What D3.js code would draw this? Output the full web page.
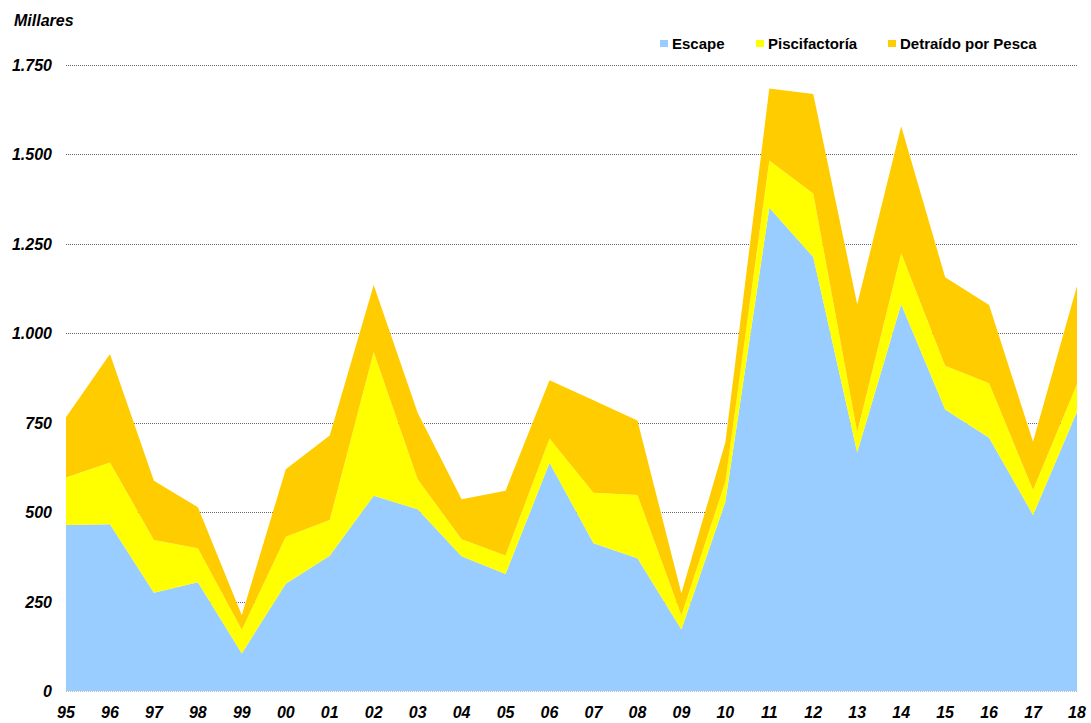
<!DOCTYPE html>
<html>
<head>
<meta charset="utf-8">
<script src="https://cdn.jsdelivr.net/npm/d3@7"></script>
<style>
  body { margin: 0; background: #fff; }
  svg { display: block; font-family: "Liberation Sans", Arial, sans-serif; }
</style>
</head>
<body>
<div id="chart"></div>
<script>
// años (eje X)
var years = ["95","96","97","98","99","00","01","02","03","04","05","06","07","08","09","10","11","12","13","14","15","16","17","18"];
// series en millares
var escape = [464,466,275,304,105,300,378,546,508,377,327,638,413,371,172,529,1351,1213,667,1081,787,708,492,781];
var piscifactoria = [133,173,147,95,66,131,100,402,84,47,52,68,141,177,40,56,132,178,56,143,122,152,70,77];
var detraido = [168,303,166,115,41,189,236,187,186,112,181,163,259,208,61,110,201,278,358,355,248,219,135,274];
var yTicks = [0,250,500,750,1000,1250,1500,1750];
var seriesNames = ["Escape","Piscifactoría","Detraído por Pesca"];
var seriesKeys = ["escape","pisc","detr"];
var colors = ["#99CCFF","#FFFF00","#FFCC00"];

var width = 1091, height = 723;
var plotLeft = 66, plotRight = 1077, plotTop = 65, plotBottom = 691;

var rows = years.map(function(yr, i) {
  return { year: yr, escape: escape[i], pisc: piscifactoria[i], detr: detraido[i] };
});

var svg = d3.select("#chart").append("svg")
  .attr("width", width)
  .attr("height", height);

var x = d3.scalePoint().domain(years).range([plotLeft, plotRight]);
var y = d3.scaleLinear().domain([0, 1750]).range([plotBottom, plotTop]);

function fmt(v) {
  return d3.format(",")(v).replace(/,/g, ".");
}

// líneas de cuadrícula
svg.append("g").selectAll("line")
  .data(yTicks)
  .enter()
  .append("line")
  .attr("x1", plotLeft)
  .attr("x2", plotRight)
  .attr("y1", function(d) { return Math.round(y(d)) + 0.5; })
  .attr("y2", function(d) { return Math.round(y(d)) + 0.5; })
  .style("stroke", function(d) { return d === 0 ? "#bbb" : "#666"; })
  .style("stroke-width", 1)
  .style("stroke-dasharray", "1,1");

// áreas apiladas
var stack = d3.stack().keys(seriesKeys);
var layers = stack(rows);

var area = d3.area()
  .x(function(d) { return x(d.data.year); })
  .y0(function(d) { return y(d[0]); })
  .y1(function(d) { return y(d[1]); });

svg.append("g").selectAll("path")
  .data(layers)
  .enter()
  .append("path")
  .attr("d", area)
  .style("fill", function(d, i) { return colors[i]; });

// eje Y
svg.append("g").selectAll("text")
  .data(yTicks)
  .enter()
  .append("text")
  .attr("x", 52)
  .attr("y", function(d) { return y(d) + 6; })
  .attr("text-anchor", "end")
  .style("font-size", "16px")
  .style("font-weight", "bold")
  .style("font-style", "italic")
  .text(fmt);

// eje X
svg.append("g").selectAll("text")
  .data(years)
  .enter()
  .append("text")
  .attr("x", function(d) { return x(d); })
  .attr("y", 718)
  .attr("text-anchor", "middle")
  .style("font-size", "16px")
  .style("font-weight", "bold")
  .style("font-style", "italic")
  .text(function(d) { return d; });

// título del eje
svg.append("text")
  .attr("x", 14)
  .attr("y", 26)
  .style("font-size", "16px")
  .style("font-weight", "bold")
  .style("font-style", "italic")
  .text("Millares");

// leyenda
var legendX = [660, 756, 888];
var legend = svg.append("g").selectAll("g")
  .data(seriesNames)
  .enter()
  .append("g")
  .attr("transform", function(d, i) { return "translate(" + legendX[i] + ",0)"; });

legend.append("rect")
  .attr("x", 0)
  .attr("y", 40)
  .attr("width", 8)
  .attr("height", 7)
  .style("fill", function(d, i) { return colors[i]; });

legend.append("text")
  .attr("x", 12)
  .attr("y", 49)
  .style("font-size", "15px")
  .style("font-weight", "bold")
  .text(function(d) { return d; });
</script>
</body>
</html>
